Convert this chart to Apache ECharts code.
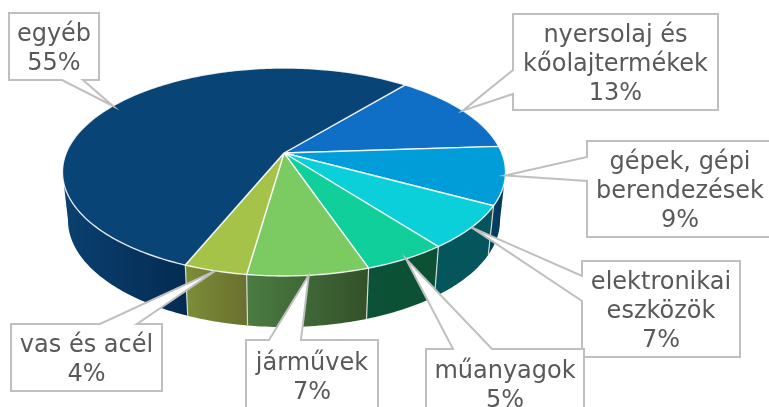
<!DOCTYPE html>
<html>
<head>
<meta charset="utf-8">
<title>pie</title>
<style>
  html, body { margin: 0; padding: 0; background: #fff; }
  #main { width: 769px; height: 407px; }
</style>
<script src="https://cdn.jsdelivr.net/npm/echarts@6/dist/echarts.min.js"></script>
</head>
<body>
<div id="main"></div>
<script>
var categories = ['nyersolaj és\nkőolajtermékek', 'gépek, gépi\nberendezések', 'elektronikai\neszközök', 'műanyagok', 'járművek', 'vas és acél', 'egyéb'];
var values = [13, 9, 6.7, 5.15, 7.45, 3.9, 54.8];

var topColors = ['#0f6fc6', '#009dd9', '#0bd0d9', '#10cf9b', '#7cca62', '#a5c249', '#094476'];
var wallLeft = ['#033f64', '#033f64', '#04565c', '#0a5238', '#4a7d42', '#7c8e38', '#0a4070'];
var wallRight = ['#033f64', '#02385a', '#04565c', '#0d5033', '#34502a', '#6a6f2e', '#042b52'];

// callout boxes: x, y, w, h and where the pointer leaves the box
var boxes = [
    { x: 513, y: 14, w: 205, h: 96, side: 'left', a: 70, b: 94 },
    { x: 587, y: 141, w: 190, h: 96, side: 'left', a: 157, b: 181 },
    { x: 582, y: 261, w: 158, h: 96, side: 'left', a: 276, b: 301 },
    { x: 426, y: 349, w: 158, h: 69, side: 'top', a: 453, b: 492 },
    { x: 246, y: 340, w: 132, h: 71, side: 'top', a: 269, b: 301 },
    { x: 11, y: 324, w: 151, h: 67, side: 'top', a: 100, b: 137 },
    { x: 9, y: 13, w: 90, h: 67, side: 'bottom', a: 62, b: 83 }
];

var startAngle = 39.4;
var total = values.reduce(function(s, v) { return s + v; }, 0);

// perspective disc: apex of the pie is not the middle of the ellipse
var cx = 284, cy = 153, ax = 217.8, by = 100.5, k = 0.1827;
var floorAx = 212.4, floorBy = 103.4, floorY = 200.5;
// the side wall only shows between the two widest points of the ellipse
var wallFrom = 100.5, wallTo = 259.5;

function rim(deg, isFloor) {
    var t = deg * Math.PI / 180;
    var u = Math.sin(t), v = -Math.cos(t), w = 1 - k * v;
    if (isFloor) {
        return [cx + floorAx * u / w, floorY + floorBy * v / w];
    }
    return [cx + ax * u / w, cy + by * v / w];
}

function arc(from, to, isFloor) {
    var pts = [];
    var n = Math.max(2, Math.ceil(Math.abs(to - from)));
    for (var i = 0; i <= n; i++) {
        pts.push(rim(from + (to - from) * i / n, isFloor));
    }
    return pts;
}

// angles of every slice, clockwise from 12 o'clock
var spans = [];
(function() {
    var a = startAngle;
    values.forEach(function(v) {
        var d = v / total * 360;
        spans.push([a, a + d]);
        a += d;
    });
})();

var seriesData = categories.map(function(c, i) { return [i, values[i]]; });

function renderWall(params, api) {
    var i = api.value(0);
    var from = Math.max(spans[i][0], wallFrom);
    var to = Math.min(spans[i][1], wallTo);
    if (to <= from) return { type: 'group', children: [] };
    var pts = arc(from, to, false).concat(arc(to, from, true));
    var children = [{
        type: 'polygon',
        shape: { points: pts },
        style: {
            fill: new echarts.graphic.LinearGradient(0, 0, 1, 0, [
                { offset: 0, color: wallLeft[i] },
                { offset: 1, color: wallRight[i] }
            ])
        }
    }];
    if (spans[i][0] > wallFrom) {
        var p0 = rim(from, false), p1 = rim(from, true);
        children.push({
            type: 'line',
            shape: { x1: p0[0], y1: p0[1], x2: p1[0], y2: p1[1] },
            style: { stroke: '#d4dcd4', lineWidth: 1.2 }
        });
    }
    return { type: 'group', children: children };
}

function renderTop(params, api) {
    var i = api.value(0);
    var pts = [[cx, cy]].concat(arc(spans[i][0], spans[i][1], false));
    return {
        type: 'polygon',
        shape: { points: pts },
        style: { fill: topColors[i], stroke: 'rgba(255,255,255,0.85)', lineWidth: 1.4, lineJoin: 'round' }
    };
}

function renderCallout(params, api) {
    var i = api.value(0);
    var b = boxes[i];
    var tip = rim((spans[i][0] + spans[i][1]) / 2, false);
    var r = b.x + b.w, d = b.y + b.h;
    var pts;
    if (b.side === 'left') {
        pts = [[b.x, b.y], [r, b.y], [r, d], [b.x, d], [b.x, b.b], tip, [b.x, b.a]];
    } else if (b.side === 'top') {
        pts = [[b.x, b.y], [b.a, b.y], tip, [b.b, b.y], [r, b.y], [r, d], [b.x, d]];
    } else {
        pts = [[b.x, b.y], [r, b.y], [r, d], [b.b, d], tip, [b.a, d], [b.x, d]];
    }
    var text = categories[i] + '\n' + Math.round(values[i] / total * 100) + '%';
    return {
        type: 'group',
        children: [{
            type: 'polygon',
            shape: { points: pts },
            style: { fill: '#fff', stroke: '#bfbfbf', lineWidth: 2 }
        }, {
            type: 'text',
            style: {
                x: i === 1 ? 680 : b.x + b.w / 2,
                y: b.y + b.h / 2 + 3,
                text: text,
                fill: '#595959',
                font: '24px "DejaVu Sans"',
                lineHeight: 29,
                align: 'center',
                verticalAlign: 'middle'
            }
        }]
    };
}

var app = echarts.init(document.getElementById('main'));

var option = {
    animation: false,
    backgroundColor: '#fff',
    series: [
        { type: 'custom', coordinateSystem: 'none', z: 1, silent: true, data: seriesData, renderItem: renderWall },
        { type: 'custom', coordinateSystem: 'none', z: 2, silent: true, data: seriesData, renderItem: renderTop },
        { type: 'custom', coordinateSystem: 'none', z: 3, silent: true, data: seriesData, renderItem: renderCallout }
    ]
};
app.setOption(option);
</script>
</body>
</html>
